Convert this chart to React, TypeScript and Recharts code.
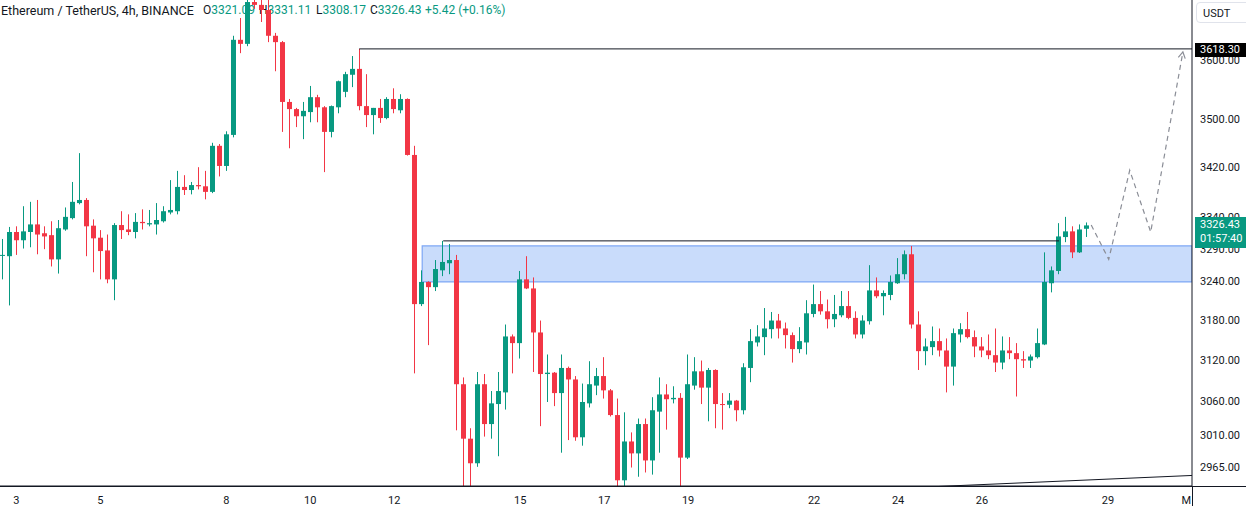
import { ComposedChart, Bar, Line, XAxis, YAxis, ReferenceArea, ReferenceLine } from 'recharts';

const GREEN = '#089981';
const RED = '#f23645';
const FONT = 'Roboto, "Noto Sans", sans-serif';

// ETH/USDT 4h candles: [open, high, low, close]
const candles: number[][] = [
  [3279, 3305, 3242, 3280], [3278, 3324, 3202, 3316], [3316, 3325, 3280, 3303], [3303, 3357, 3290, 3317],
  [3316, 3364, 3292, 3328], [3328, 3367, 3281, 3312], [3314, 3325, 3289, 3309], [3311, 3333, 3262, 3273],
  [3273, 3335, 3251, 3322], [3320, 3355, 3318, 3340], [3338, 3396, 3336, 3364], [3362, 3443, 3360, 3367],
  [3367, 3370, 3278, 3325], [3326, 3336, 3253, 3306], [3307, 3319, 3242, 3286], [3287, 3312, 3236, 3242],
  [3242, 3330, 3210, 3327], [3327, 3349, 3305, 3319], [3320, 3344, 3311, 3316], [3316, 3346, 3306, 3332],
  [3332, 3352, 3320, 3330], [3328, 3351, 3325, 3330], [3328, 3362, 3312, 3335], [3333, 3357, 3331, 3349],
  [3347, 3399, 3344, 3351], [3349, 3414, 3344, 3388], [3388, 3407, 3375, 3383], [3383, 3396, 3376, 3391],
  [3391, 3420, 3384, 3389], [3389, 3414, 3368, 3380], [3380, 3460, 3378, 3455], [3455, 3458, 3405, 3422],
  [3422, 3479, 3414, 3474], [3473, 3641, 3469, 3634], [3634, 3672, 3611, 3627], [3627, 3709, 3623, 3700],
  [3700, 3707, 3688, 3695], [3695, 3704, 3665, 3686], [3686, 3704, 3630, 3641], [3641, 3646, 3580, 3630],
  [3630, 3632, 3478, 3528], [3528, 3533, 3451, 3516], [3516, 3518, 3486, 3504], [3504, 3528, 3466, 3513],
  [3511, 3555, 3494, 3536], [3536, 3540, 3494, 3519], [3519, 3521, 3412, 3478], [3478, 3522, 3469, 3521],
  [3519, 3564, 3509, 3563], [3545, 3579, 3536, 3575], [3574, 3606, 3553, 3584], [3584, 3618.3, 3514, 3521],
  [3521, 3575, 3486, 3506], [3506, 3518, 3474, 3518], [3518, 3533, 3493, 3501], [3501, 3536, 3499, 3533],
  [3533, 3551, 3509, 3516], [3514, 3541, 3509, 3533], [3533, 3534, 3439, 3440], [3440, 3455, 3100, 3204],
  [3204, 3256, 3201, 3238], [3238, 3239, 3142, 3230], [3230, 3272, 3224, 3258], [3256, 3302, 3247, 3269],
  [3267, 3297, 3250, 3272], [3272, 3280, 3017, 3084], [3084, 3094, 2925, 3005], [3005, 3020, 2936, 2970],
  [2970, 3102, 2965, 3084], [3084, 3099, 3008, 3026], [3026, 3074, 3005, 3056], [3055, 3102, 2980, 3074],
  [3072, 3173, 3047, 3155], [3155, 3158, 3100, 3145], [3145, 3255, 3122, 3242], [3242, 3278, 3227, 3228],
  [3228, 3245, 3102, 3161], [3161, 3179, 3023, 3099], [3099, 3128, 3058, 3101], [3101, 3102, 3052, 3071],
  [3071, 3128, 2985, 3108], [3108, 3110, 3003, 3091], [3091, 3096, 3002, 3007], [3007, 3085, 2995, 3058],
  [3056, 3118, 3050, 3084], [3082, 3108, 3068, 3096], [3096, 3124, 3063, 3075], [3075, 3077, 3037, 3039],
  [3039, 3063, 2937, 2946], [2946, 3043, 2937, 3001], [3001, 3014, 2964, 2984], [2984, 3034, 2951, 3026],
  [3026, 3034, 2957, 2974], [2974, 3065, 2954, 3046], [3044, 3094, 2985, 3069], [3069, 3084, 3018, 3062],
  [3062, 3081, 3056, 3064], [3064, 3071, 2936, 2978], [2978, 3128, 2976, 3084], [3082, 3124, 3076, 3103],
  [3103, 3119, 3055, 3079], [3079, 3108, 3030, 3105], [3105, 3106, 3020, 3055], [3055, 3071, 3018, 3054],
  [3054, 3071, 3049, 3060], [3060, 3061, 3030, 3046], [3046, 3115, 3040, 3109], [3108, 3166, 3087, 3148],
  [3146, 3172, 3140, 3155], [3154, 3198, 3127, 3167], [3166, 3192, 3152, 3179], [3179, 3189, 3152, 3167],
  [3167, 3176, 3137, 3157], [3157, 3161, 3116, 3136], [3136, 3169, 3130, 3148], [3146, 3210, 3128, 3190],
  [3189, 3234, 3184, 3204], [3204, 3224, 3188, 3193], [3193, 3211, 3167, 3181], [3181, 3218, 3169, 3189],
  [3187, 3224, 3184, 3201], [3201, 3224, 3181, 3183], [3183, 3193, 3152, 3158], [3158, 3187, 3152, 3179],
  [3178, 3264, 3173, 3225], [3225, 3245, 3213, 3216], [3216, 3225, 3187, 3221], [3218, 3248, 3210, 3238],
  [3236, 3275, 3235, 3250], [3250, 3287, 3242, 3281], [3281, 3294, 3167, 3173], [3173, 3193, 3105, 3133],
  [3133, 3152, 3112, 3140], [3139, 3170, 3127, 3148], [3148, 3167, 3125, 3134], [3134, 3152, 3072, 3110],
  [3110, 3167, 3082, 3160], [3158, 3175, 3146, 3166], [3166, 3192, 3152, 3154], [3154, 3164, 3124, 3140],
  [3140, 3154, 3124, 3134], [3134, 3158, 3121, 3127], [3127, 3167, 3102, 3116], [3116, 3155, 3106, 3134],
  [3134, 3154, 3121, 3130], [3130, 3145, 3066, 3121], [3121, 3133, 3108, 3119], [3119, 3128, 3108, 3125],
  [3124, 3167, 3122, 3145], [3143, 3284, 3142, 3238], [3236, 3262, 3222, 3256], [3255, 3330, 3250, 3309],
  [3308, 3340, 3300, 3317], [3317, 3325, 3275, 3284], [3284, 3328, 3283, 3320], [3321.09, 3331.11, 3308.17, 3326.43],
];

// day labels on the time axis (candle index of 00:00 of that day)
const dayTicks = [2, 14, 32, 44, 56, 74, 86, 98, 116, 128, 140, 158, 170];
const dayLabels = ['3', '5', '8', '10', '12', '15', '17', '19', '22', '24', '26', '29', 'M'];
const priceTicks = [2965, 3010, 3060, 3120, 3180, 3240, 3290, 3340, 3420, 3500, 3600];

// drawn projection path
const projIdx = [155.6, 158.1, 161.1, 164.1, 168.7];
const projPrice = [3327, 3273, 3415, 3316, 3613];

const zoneTop = 3294;
const zoneBottom = 3238;
const zoneStart = 60;
const highLevel = 3618.3;
const highStart = 51;
const breakLevel = 3302;
const breakStart = 63;
const breakEnd = 151;
const trendIdx = [133.9, 170];
const trendPrice = [2937.4, 2952.8];

const lastClose = 3326.43;
const countdown = '01:57:40';

const legendTitle = 'Ethereum / TetherUS, 4h, BINANCE';
const legendKeys = ['O', 'H', 'L', 'C', ''];
const legendValues = ['3321.09', '3331.11', '3308.17', '3326.43', '+5.42 (+0.16%)'];
const legendLeft = [203, 259, 316, 370, 425];

const xMin = -0.33;
const xMax = 170;
const yMin = 2938;
const yMax = 3703.6;

const data: any[] = candles.map(([o, h, l, c], i) => ({ i, o, h, l, c, range: [l, h] }));
projIdx.forEach((i, k) => data.push({ i, proj: projPrice[k] }));

function Candle(props: any) {
  const { x, y, width, height, payload } = props;
  if (!payload || payload.o == null) return null;
  const { o, h, l, c } = payload;
  const top = height >= 0 ? y : y + height;
  const hh = Math.abs(height);
  const span = Math.log(h) - Math.log(l);
  const py = (v: number) => (span > 0 ? top + ((Math.log(h) - Math.log(v)) / span) * hh : top);
  const color = c >= o ? GREEN : RED;
  const cx = Math.floor(x + width / 2);
  const b1 = Math.min(py(o), py(c));
  const b2 = Math.max(py(o), py(c));
  return (
    <g>
      <rect x={cx} y={top} width={1} height={Math.max(hh, 1)} fill={color} />
      <rect x={cx - 2} y={b1} width={5} height={Math.max(b2 - b1, 1)} fill={color} />
    </g>
  );
}

function PriceTick(props: any) {
  const { x, y, payload } = props;
  return (
    <text x={x} y={y} dy={4} fontSize={11} fill="#131722" fontFamily={FONT} textAnchor="start">
      {Number(payload.value).toFixed(2)}
    </text>
  );
}

function DayTick(props: any) {
  const { x, y, payload } = props;
  const k = dayTicks.indexOf(payload.value);
  const last = k === dayTicks.length - 1;
  return (
    <text x={last ? x - 1 : x} y={y + 16} fontSize={11} fill="#131722" fontFamily={FONT} textAnchor={last ? 'end' : 'middle'}>
      {dayLabels[k]}
    </text>
  );
}

function ArrowDot(props: any) {
  const { cx, cy, index } = props;
  if (index !== data.length - 1 || cx == null) return null;
  return <path d={`M${cx - 4.6},${cy + 5.3} L${cx},${cy} L${cx + 2.3},${cy + 6.6}`} stroke="#8a8d96" strokeWidth={1.2} fill="none" />;
}

export default function App() {
  return (
    <div style={{ position: 'absolute', left: 0, top: 0, width: 1246, height: 506, background: '#fff', overflow: 'hidden', fontFamily: FONT }}>
      <div style={{ position: 'absolute', left: 1, top: 3, fontSize: 12.5, color: '#131722', whiteSpace: 'nowrap' }}>{legendTitle}</div>
      {legendValues.map((v, k) => (
        <div key={k} style={{ position: 'absolute', left: legendLeft[k], top: 3, fontSize: 12, color: '#131722', whiteSpace: 'nowrap' }}>
          {legendKeys[k]}
          <span style={{ color: GREEN }}>{v}</span>
        </div>
      ))}
      <div style={{ position: 'absolute', left: 0, top: 0 }}>
        <ComposedChart width={1246} height={506} data={data} margin={{ top: 0, right: 0, bottom: 0, left: 0 }}>
          <XAxis
            dataKey="i"
            type="number"
            domain={[xMin, xMax]}
            allowDataOverflow
            ticks={dayTicks}
            tick={<DayTick />}
            tickLine={false}
            tickSize={0}
            height={20}
            axisLine={{ stroke: '#131722' }}
            interval={0}
          />
          <YAxis
            orientation="right"
            scale="log"
            domain={[yMin, yMax]}
            allowDataOverflow
            ticks={priceTicks}
            tick={<PriceTick />}
            tickLine={false}
            tickSize={0}
            tickMargin={8}
            width={54}
            axisLine={{ stroke: '#131722' }}
            interval={0}
          />
          <ReferenceArea x1={zoneStart} x2={xMax} y1={zoneBottom} y2={zoneTop} fill="#c9dcfb" fillOpacity={1} stroke="#7ea7f5" strokeWidth={1.2} ifOverflow="hidden" />
          <ReferenceLine segment={[{ x: highStart, y: highLevel }, { x: xMax, y: highLevel }]} stroke="#131722" strokeWidth={1} ifOverflow="hidden" />
          <ReferenceLine segment={[{ x: breakStart, y: breakLevel }, { x: breakEnd, y: breakLevel }]} stroke="#131722" strokeWidth={1} ifOverflow="hidden" />
          <ReferenceLine segment={[{ x: trendIdx[0], y: trendPrice[0] }, { x: trendIdx[1], y: trendPrice[1] }]} stroke="#131722" strokeWidth={1} ifOverflow="hidden" />
          <Bar dataKey="range" barSize={5} shape={<Candle />} isAnimationActive={false} />
          <Line
            dataKey="proj"
            type="linear"
            stroke="#8a8d96"
            strokeWidth={1.2}
            strokeDasharray="5 4"
            dot={<ArrowDot />}
            activeDot={false}
            connectNulls
            isAnimationActive={false}
          />
        </ComposedChart>
      </div>
      <div style={{ position: 'absolute', left: 0, top: 486, width: 1246, height: 1, background: '#131722' }} />
      <div style={{ position: 'absolute', left: 1192, top: 486, width: 1, height: 20, background: '#131722' }} />
      <div style={{ position: 'absolute', left: 1196, top: 2, width: 56, height: 21, border: '1px solid #e0e3eb', borderRadius: 4, fontSize: 11, color: '#131722', lineHeight: '21px', paddingLeft: 6, boxSizing: 'border-box' }}>
        USDT
      </div>
      <div style={{ position: 'absolute', left: 1195, top: 43, width: 51, height: 14, background: '#000', color: '#fff', fontSize: 11, lineHeight: '14px', paddingLeft: 5, boxSizing: 'border-box' }}>
        {highLevel.toFixed(2)}
      </div>
      <div style={{ position: 'absolute', left: 1195, top: 217, width: 51, height: 31, background: GREEN, color: '#fff', fontSize: 11, lineHeight: '14px', paddingLeft: 5, paddingTop: 1, boxSizing: 'border-box' }}>
        <div>{lastClose.toFixed(2)}</div>
        <div>{countdown}</div>
      </div>
    </div>
  );
}
